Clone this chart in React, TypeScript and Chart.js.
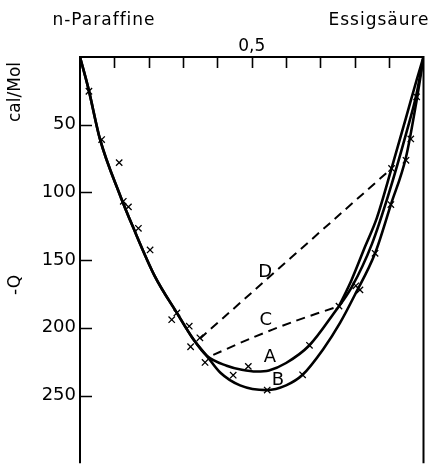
import React, { useEffect, useRef } from 'react';
import { Chart, registerables } from 'chart.js';

Chart.register(...registerables);

// ---- data (x = mole fraction, y = -Q in cal/Mol) ----
const leftBranchX = [0, 0.024, 0.058, 0.116, 0.155, 0.218, 0.282, 0.33, 0.369];
const leftBranchY = [0, 22.8, 60.5, 101.7, 126, 162, 189, 208.5, 220.7];

const curveAX = [0.427, 0.471, 0.514, 0.55, 0.6, 0.668, 0.737, 0.791, 0.85, 0.9, 0.95, 0.98, 1];
const curveAY = [228, 231, 232.3, 231.5, 226, 212.9, 190, 170, 138, 100, 56, 27, 0];

const curveBX = [0.408, 0.466, 0.543, 0.6, 0.648, 0.708, 0.757, 0.8, 0.859, 0.905, 0.949, 0.98, 1];
const curveBY = [233, 242.5, 246, 242.5, 234.7, 215.8, 196.4, 175.8, 145, 109, 74, 32, 0];

const branchCX = [0.754, 0.79, 0.83, 0.864, 0.907, 0.95, 0.98, 1];
const branchCY = [184, 165, 140, 119, 82.3, 44, 17, 0];

const dashCX = [0.388, 0.5, 0.621, 0.754];
const dashCY = [220, 207.5, 195.5, 184];

const dashDX = [0.349, 0.907];
const dashDY = [208, 82.3];

const markerX = [0.026, 0.063, 0.114, 0.126, 0.141, 0.17, 0.204, 0.267, 0.282, 0.318, 0.349, 0.322, 0.364,
  0.446, 0.49, 0.545, 0.648, 0.668, 0.754, 0.803, 0.815, 0.859, 0.905, 0.907, 0.949, 0.963, 0.98];
const markerY = [25.3, 61, 78, 106.6, 110.7, 126.5, 142.5, 194, 189, 198.8, 207.4, 214, 225.6,
  235, 228.5, 246, 234.7, 212.9, 184, 169, 172, 145, 109, 82.3, 76.3, 60.5, 29.4];

const yTickValues = [50, 100, 150, 200, 250];
const xTickValues = [0.1, 0.2, 0.3, 0.4, 0.5, 0.6, 0.7, 0.8, 0.9];
const xTickLabelValue = 0.5;
const xTickLabelText = '0,5';

const curveLabels = ['A', 'B', 'C', 'D'];
const curveLabelX = [0.553, 0.576, 0.541, 0.539];
const curveLabelY = [222, 239, 194.5, 158.8];

const leftTitle = 'n-Paraffine';
const rightTitle = 'Essigsäure';
const yTitle = '-Q';
const yUnit = 'cal/Mol';

const FONT = '"DejaVu Sans", sans-serif';

const zip = (xs: number[], ys: number[]) => xs.map((x, i) => ({ x, y: ys[i] }));

const framePlugin = {
  id: 'framePlugin',
  afterDatasetsDraw(chart: any) {
    const { ctx, chartArea: a, scales } = chart;
    const x = scales.x;
    const y = scales.y;
    ctx.save();
    ctx.strokeStyle = '#000';
    ctx.lineWidth = 2;
    ctx.beginPath();
    ctx.moveTo(a.left, a.bottom);
    ctx.lineTo(a.left, a.top);
    ctx.lineTo(a.right, a.top);
    ctx.lineTo(a.right, a.bottom);
    ctx.stroke();

    ctx.lineWidth = 1.6;
    ctx.beginPath();
    for (const v of yTickValues) {
      const py = Math.round(y.getPixelForValue(v)) + 0.5;
      ctx.moveTo(a.left, py);
      ctx.lineTo(a.left + 12, py);
    }
    for (const v of xTickValues) {
      const px = Math.round(x.getPixelForValue(v)) + 0.5;
      ctx.moveTo(px, a.top);
      ctx.lineTo(px, a.top + 11);
    }
    ctx.stroke();

    ctx.fillStyle = '#000';
    ctx.font = `18px ${FONT}`;
    ctx.textAlign = 'center';
    ctx.textBaseline = 'middle';
    curveLabels.forEach((t, i) => {
      ctx.fillText(t, x.getPixelForValue(curveLabelX[i]), y.getPixelForValue(curveLabelY[i]));
    });

    ctx.font = `17px ${FONT}`;
    try { (ctx as any).letterSpacing = '1px'; } catch (e) {}
    ctx.fillText(leftTitle, 104, 21);
    ctx.fillText(rightTitle, 379, 21);
    try { (ctx as any).letterSpacing = '0px'; } catch (e) {}

    ctx.save();
    ctx.translate(16, 92);
    ctx.rotate(-Math.PI / 2);
    ctx.fillText(yUnit, 0, 0);
    ctx.restore();

    ctx.save();
    ctx.translate(16, 285);
    ctx.rotate(-Math.PI / 2);
    ctx.fillText(yTitle, 0, 0);
    ctx.restore();

    ctx.restore();
  },
};

export default function App() {
  const ref = useRef<HTMLCanvasElement | null>(null);

  useEffect(() => {
    document.body.style.margin = '0';
    const canvas = ref.current;
    if (!canvas) return;

    const solid = (data: any[]) => ({
      data,
      showLine: true,
      borderColor: '#000',
      borderWidth: 2.6,
      pointRadius: 0,
      cubicInterpolationMode: 'monotone' as const,
      fill: false,
    });
    const dashed = (data: any[]) => ({
      data,
      showLine: true,
      borderColor: '#000',
      borderWidth: 2,
      borderDash: [9, 6],
      pointRadius: 0,
      tension: 0.3,
      fill: false,
    });

    const chart = new Chart(canvas, {
      type: 'scatter',
      data: {
        datasets: [
          solid(zip(leftBranchX.concat(curveBX), leftBranchY.concat(curveBY))),
          solid(zip(leftBranchX.concat(curveAX), leftBranchY.concat(curveAY))),
          solid(zip(branchCX, branchCY)),
          dashed(zip(dashCX, dashCY)),
          dashed(zip(dashDX, dashDY)),
          {
            data: zip(markerX, markerY),
            showLine: false,
            pointStyle: 'crossRot',
            pointRadius: 4.5,
            borderColor: '#000',
            backgroundColor: '#000',
            pointBorderWidth: 1.3,
            borderWidth: 1.3,
          } as any,
        ],
      },
      options: {
        animation: false,
        responsive: false,
        maintainAspectRatio: false,
        events: [],
        layout: { padding: { left: 0, right: 13.5, top: 0, bottom: 0 } },
        plugins: { legend: { display: false }, tooltip: { enabled: false } },
        scales: {
          x: {
            type: 'linear',
            position: 'top',
            min: 0,
            max: 1,
            grid: { display: false, drawTicks: false },
            border: { display: false },
            ticks: {
              stepSize: 0.1,
              autoSkip: false,
              maxRotation: 0,
              padding: 0,
              color: '#000',
              font: { family: FONT, size: 17 },
              callback: (v: any) => (Math.abs(Number(v) - xTickLabelValue) < 1e-6 ? xTickLabelText : ''),
            },
            afterFit: (s: any) => {
              s.height = 57;
              s.paddingLeft = 0;
              s.paddingRight = 0;
            },
          },
          y: {
            type: 'linear',
            position: 'left',
            min: 0,
            max: 300,
            reverse: true,
            grid: { display: false, drawTicks: false },
            border: { display: false },
            ticks: {
              stepSize: 50,
              autoSkip: false,
              padding: 4,
              color: '#000',
              font: { family: FONT, size: 18 },
              callback: (v: any) => (yTickValues.includes(Number(v)) ? String(v) : ''),
            },
            afterFit: (s: any) => {
              s.width = 80;
              s.paddingTop = 0;
              s.paddingBottom = 0;
            },
          },
        },
      } as any,
      plugins: [framePlugin],
    });

    return () => chart.destroy();
  }, []);

  return (
    <div style={{ width: 437, height: 469 }}>
      <canvas ref={ref} width={437} height={469} style={{ display: 'block', width: 437, height: 469 }} />
    </div>
  );
}
